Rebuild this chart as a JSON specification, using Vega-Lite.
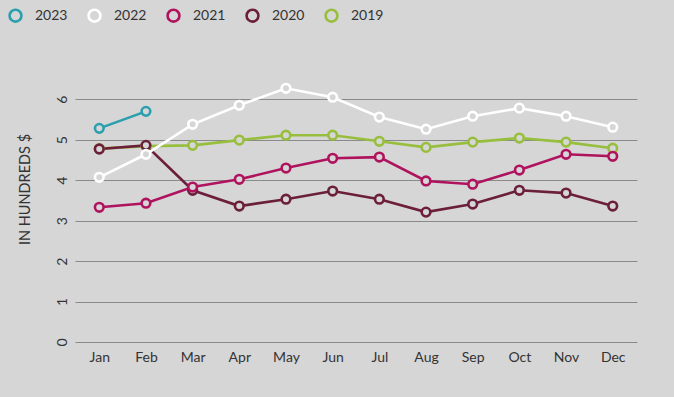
{
  "$schema": "https://vega.github.io/schema/vega-lite/v6.json",
  "width": 562,
  "height": 263,
  "autosize": {"type": "none"},
  "padding": {"left": 75, "top": 79, "right": 37, "bottom": 55},
  "background": "#d6d6d6",
  "config": {
    "view": {"stroke": null},
    "font": "Lato",
    "axis": {"labelColor": "#333333", "titleColor": "#333333", "labelFont": "Lato", "titleFont": "Lato"}
  },
  "data": {
    "values": [
      {"year": "2019", "month": "Jan", "value": 4.78},
      {"year": "2019", "month": "Feb", "value": 4.84},
      {"year": "2019", "month": "Mar", "value": 4.86},
      {"year": "2019", "month": "Apr", "value": 4.99},
      {"year": "2019", "month": "May", "value": 5.11},
      {"year": "2019", "month": "Jun", "value": 5.11},
      {"year": "2019", "month": "Jul", "value": 4.96},
      {"year": "2019", "month": "Aug", "value": 4.81},
      {"year": "2019", "month": "Sep", "value": 4.94},
      {"year": "2019", "month": "Oct", "value": 5.04},
      {"year": "2019", "month": "Nov", "value": 4.94},
      {"year": "2019", "month": "Dec", "value": 4.79},
      {"year": "2020", "month": "Jan", "value": 4.77},
      {"year": "2020", "month": "Feb", "value": 4.86},
      {"year": "2020", "month": "Mar", "value": 3.75},
      {"year": "2020", "month": "Apr", "value": 3.36},
      {"year": "2020", "month": "May", "value": 3.53},
      {"year": "2020", "month": "Jun", "value": 3.73},
      {"year": "2020", "month": "Jul", "value": 3.53},
      {"year": "2020", "month": "Aug", "value": 3.21},
      {"year": "2020", "month": "Sep", "value": 3.41},
      {"year": "2020", "month": "Oct", "value": 3.75},
      {"year": "2020", "month": "Nov", "value": 3.68},
      {"year": "2020", "month": "Dec", "value": 3.36},
      {"year": "2021", "month": "Jan", "value": 3.33},
      {"year": "2021", "month": "Feb", "value": 3.43},
      {"year": "2021", "month": "Mar", "value": 3.83},
      {"year": "2021", "month": "Apr", "value": 4.02},
      {"year": "2021", "month": "May", "value": 4.30},
      {"year": "2021", "month": "Jun", "value": 4.54},
      {"year": "2021", "month": "Jul", "value": 4.57},
      {"year": "2021", "month": "Aug", "value": 3.98},
      {"year": "2021", "month": "Sep", "value": 3.90},
      {"year": "2021", "month": "Oct", "value": 4.25},
      {"year": "2021", "month": "Nov", "value": 4.64},
      {"year": "2021", "month": "Dec", "value": 4.59},
      {"year": "2022", "month": "Jan", "value": 4.07},
      {"year": "2022", "month": "Feb", "value": 4.64},
      {"year": "2022", "month": "Mar", "value": 5.38},
      {"year": "2022", "month": "Apr", "value": 5.85},
      {"year": "2022", "month": "May", "value": 6.27},
      {"year": "2022", "month": "Jun", "value": 6.05},
      {"year": "2022", "month": "Jul", "value": 5.56},
      {"year": "2022", "month": "Aug", "value": 5.26},
      {"year": "2022", "month": "Sep", "value": 5.58},
      {"year": "2022", "month": "Oct", "value": 5.78},
      {"year": "2022", "month": "Nov", "value": 5.58},
      {"year": "2022", "month": "Dec", "value": 5.31},
      {"year": "2023", "month": "Jan", "value": 5.28},
      {"year": "2023", "month": "Feb", "value": 5.70}
    ]
  },
  "encoding": {
    "x": {
      "field": "month", "type": "ordinal",
      "sort": ["Jan","Feb","Mar","Apr","May","Jun","Jul","Aug","Sep","Oct","Nov","Dec"],
      "scale": {"type": "point", "padding": 0.52},
      "axis": {"title": null, "labelAngle": 0, "ticks": false, "domain": false, "labelFontSize": 14, "labelPadding": 8, "grid": false}
    },
    "y": {
      "field": "value", "type": "quantitative",
      "scale": {"domain": [0, 6.5], "nice": false},
      "axis": {
        "title": "IN HUNDREDS $", "titleFontSize": 14.5, "titleFontWeight": "normal",
        "titleX": -43, "titleY": 110,
        "values": [0,1,2,3,4,5,6], "labelAngle": -90, "labelFontSize": 14, "labelPadding": 6,
        "domain": false, "ticks": false, "grid": true, "gridColor": "#8a8a8a", "gridWidth": 1
      }
    },
    "color": {
      "field": "year", "type": "nominal",
      "scale": {"domain": ["2023","2022","2021","2020","2019"], "range": ["#2a9fad","#ffffff","#b0135e","#6b1f3a","#97be3d"]},
      "legend": {
        "title": null, "orient": "none", "direction": "horizontal",
        "legendX": -67, "legendY": -71,
        "symbolType": "circle", "symbolFillColor": "#d6d6d6", "symbolStrokeWidth": 2.6, "symbolSize": 140,
        "labelFontSize": 14, "labelColor": "#333333", "labelOffset": 12, "columnPadding": 15
      }
    }
  },
  "layer": [
    {"mark": {"type": "line", "strokeWidth": 2.6}, "encoding": {"order": {"field": "year"}}},
    {"mark": {"type": "point", "filled": false, "fill": "#d6d6d6", "fillOpacity": 1, "opacity": 1, "strokeWidth": 2.6, "size": 75}}
  ]
}
